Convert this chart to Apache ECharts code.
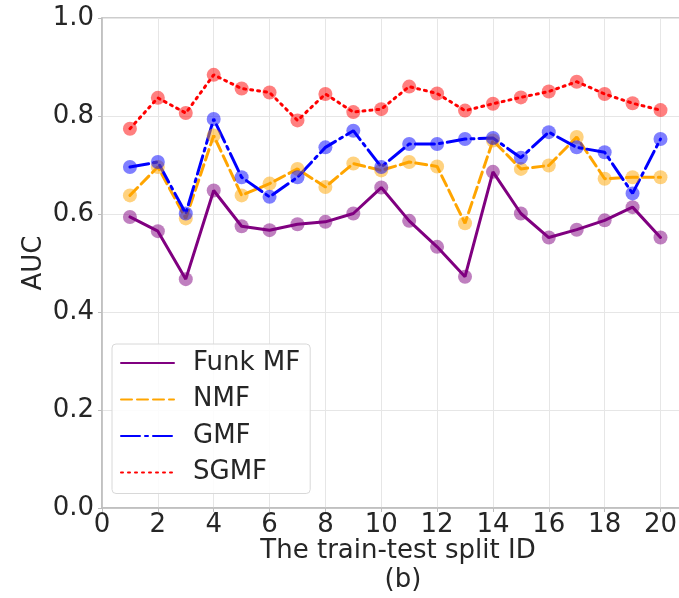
<!DOCTYPE html>
<html>
<head>
<meta charset="utf-8">
<script src="https://cdn.jsdelivr.net/npm/echarts@6/dist/echarts.min.js"></script>
<style>
  html, body { margin: 0; padding: 0; background: #fff; }
  #main { width: 679px; height: 598px; }
</style>
</head>
<body>
<div id="main"></div>
<script>
var splitIds = [1, 2, 3, 4, 5, 6, 7, 8, 9, 10, 11, 12, 13, 14, 15, 16, 17, 18, 19, 20];
var funkMF = [0.594, 0.565, 0.467, 0.648, 0.575, 0.567, 0.579, 0.584, 0.601, 0.654,
              0.586, 0.533, 0.472, 0.686, 0.601, 0.552, 0.568, 0.587, 0.614, 0.552];
var nmf = [0.638, 0.696, 0.591, 0.760, 0.638, 0.662, 0.692, 0.655, 0.703, 0.689,
           0.706, 0.697, 0.581, 0.750, 0.692, 0.699, 0.757, 0.672, 0.675, 0.675];
var gmf = [0.696, 0.706, 0.601, 0.794, 0.675, 0.635, 0.675, 0.736, 0.770, 0.696,
           0.743, 0.743, 0.753, 0.755, 0.715, 0.767, 0.736, 0.726, 0.642, 0.753];
var sgmf = [0.774, 0.837, 0.806, 0.884, 0.856, 0.848, 0.791, 0.845, 0.808, 0.814,
            0.860, 0.846, 0.811, 0.825, 0.838, 0.850, 0.870, 0.845, 0.826, 0.812];

var font = 'DejaVu Sans';

function pairs(vals) {
  return splitIds.map(function (x, i) { return [x, vals[i]]; });
}

function makeSeries(name, vals, color, dash) {
  return {
    name: name,
    type: 'line',
    data: pairs(vals),
    symbol: 'circle',
    symbolSize: 14,
    itemStyle: { color: color, opacity: 0.5 },
    lineStyle: { color: color, width: 3, type: dash, cap: 'round' },
    emphasis: { disabled: true }
  };
}

var myChart = echarts.init(document.getElementById('main'));
var option = {
  animation: false,
  grid: {
    left: 102, top: 18, width: 592, height: 490,
    outerBoundsMode: 'none',
    containLabel: false,
    show: true, borderColor: '#bdbdbd', borderWidth: 1.5
  },
  title: {
    text: '(b)',
    left: 398, textAlign: 'center',
    top: 562,
    textStyle: { fontFamily: font, fontSize: 26, fontWeight: 'normal', color: '#262626' }
  },
  legend: {
    orient: 'vertical',
    left: 112, top: 344,
    padding: [6, 10, 8, 8],
    itemWidth: 53, itemHeight: 26, itemGap: 10.5,
    backgroundColor: 'rgba(255,255,255,0.85)',
    borderColor: '#d8d8d8', borderWidth: 1, borderRadius: 4,
    itemStyle: { opacity: 0 },
    textStyle: { fontFamily: font, fontSize: 26, color: '#262626', padding: [0, 0, 0, 14] },
    data: ['Funk MF', 'NMF', 'GMF', 'SGMF']
  },
  xAxis: {
    type: 'value',
    min: 0, max: 21.2, interval: 2,
    name: 'The train-test split ID',
    nameLocation: 'middle', nameGap: 30,
    nameMoveOverlap: false,
    nameTextStyle: { fontFamily: font, fontSize: 26, color: '#262626' },
    axisLine: { show: true, lineStyle: { color: '#bdbdbd', width: 1.5 } },
    axisTick: { show: true, length: 4, lineStyle: { color: '#bdbdbd' } },
    axisLabel: {
      fontFamily: font, fontSize: 26, color: '#262626', margin: 4,
      formatter: function (v) { return v > 20 ? '' : String(v); }
    },
    splitLine: { show: true, lineStyle: { color: '#e6e6e6', width: 1 } }
  },
  yAxis: {
    type: 'value',
    min: 0, max: 1, interval: 0.2,
    name: 'AUC',
    nameLocation: 'middle', nameGap: 55,
    nameMoveOverlap: false,
    nameTextStyle: { fontFamily: font, fontSize: 26, color: '#262626' },
    axisLine: { show: true, lineStyle: { color: '#bdbdbd', width: 1.5 } },
    axisTick: { show: true, length: 4, lineStyle: { color: '#bdbdbd' } },
    axisLabel: {
      fontFamily: font, fontSize: 26, color: '#262626', margin: 8,
      formatter: function (v) { return v.toFixed(1); }
    },
    splitLine: { show: true, lineStyle: { color: '#e6e6e6', width: 1 } }
  },
  series: [
    makeSeries('Funk MF', funkMF, '#800080', 'solid'),
    makeSeries('NMF', nmf, '#ffa500', [11, 5]),
    makeSeries('GMF', gmf, '#0000ff', [19, 5, 3, 5]),
    makeSeries('SGMF', sgmf, '#ff0000', [2, 5])
  ]
};
myChart.setOption(option);
</script>
</body>
</html>
